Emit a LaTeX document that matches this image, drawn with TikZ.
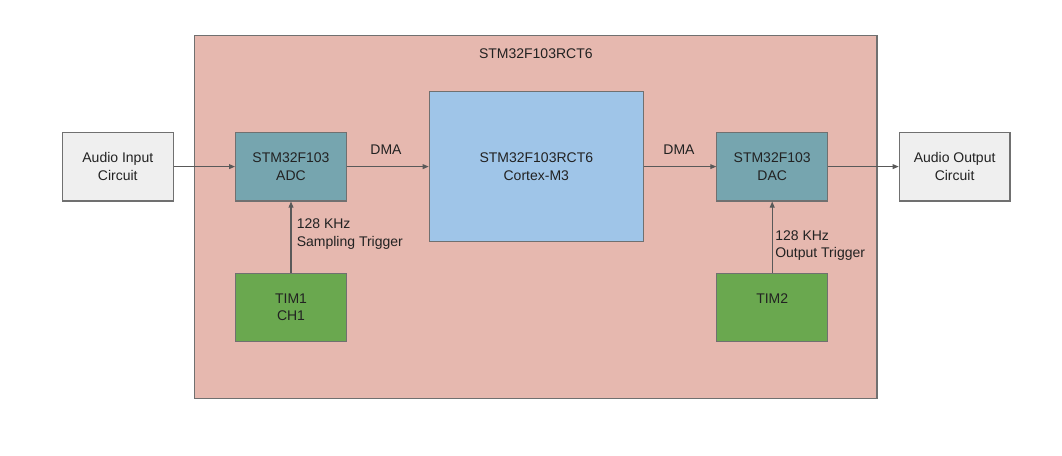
\documentclass[tikz,border=0pt]{standalone}
\usepackage{fontspec}
\setmainfont{Liberation Sans}
\usetikzlibrary{arrows.meta}
\definecolor{outerfill}{HTML}{E6B8AF}
\definecolor{audfill}{HTML}{EFEFEF}
\definecolor{convfill}{HTML}{76A5AF}
\definecolor{cpufill}{HTML}{9FC5E8}
\definecolor{timfill}{HTML}{6AA84F}
\definecolor{bordergray}{HTML}{707070}
\definecolor{linegray}{HTML}{595959}
\definecolor{txt}{HTML}{222222}
\tikzset{
  blk/.style={draw=bordergray, line width=0.9pt, align=center, text=txt,
    font=\fontsize{10.5}{13.3}\selectfont, inner sep=0pt,
    minimum width=83pt, minimum height=51.5pt},
  lbl/.style={text=txt, font=\fontsize{10.5}{13.3}\selectfont, inner sep=0pt},
  conn/.style={draw=linegray, line width=0.8pt, -{Triangle[length=4.5pt,width=3.6pt]}}
}
\begin{document}
\begin{tikzpicture}[x=0.75pt,y=-0.75pt]
\useasboundingbox (0,0) rectangle (1062,455);
\draw[draw=bordergray, line width=0.9pt, fill=outerfill] (194.7,35.3) rectangle (877,398.5);
\node[lbl] (title) at (535.8,54) {STM32F103RCT6};
\node[blk, fill=audfill] (audin) at (117.8,166.6) {Audio Input\\Circuit};
\node[blk, fill=convfill] (adc) at (291,166.6) {STM32F103\\ADC};
\node[blk, fill=timfill, minimum height=51pt] (tim1) at (291,307.3) {TIM1\\CH1};
\node[blk, fill=cpufill, minimum width=160.5pt, minimum height=112.5pt] (cpu) at (536.3,166.7) {STM32F103RCT6\\Cortex-M3};
\node[blk, fill=convfill] (dac) at (772.2,166.6) {STM32F103\\DAC};
\node[blk, fill=timfill, minimum height=51pt] (tim2) at (772.2,307.3) {TIM2\\\mbox{}};
\node[blk, fill=audfill] (audout) at (954.6,166.6) {Audio Output\\Circuit};
\draw[conn] (audin.east) -- (adc.west);
\draw[conn] (adc.east) -- (cpu.west |- adc.east);
\draw[conn] (cpu.east |- dac.west) -- (dac.west);
\draw[conn] (dac.east) -- (audout.west);
\draw[conn] (tim1.north) -- (adc.south);
\draw[conn] (tim2.north) -- (dac.south);
\node[lbl] (dma1) at (386,149.3) {DMA};
\node[lbl] (dma2) at (679,149.3) {DMA};
\node[lbl, anchor=west, align=left] (trig1) at (296.5,233.8) {128 KHz\\Sampling Trigger};
\node[lbl, anchor=west, align=left] (trig2) at (775,245.5) {128 KHz\\Output Trigger};
\end{tikzpicture}
\end{document}
